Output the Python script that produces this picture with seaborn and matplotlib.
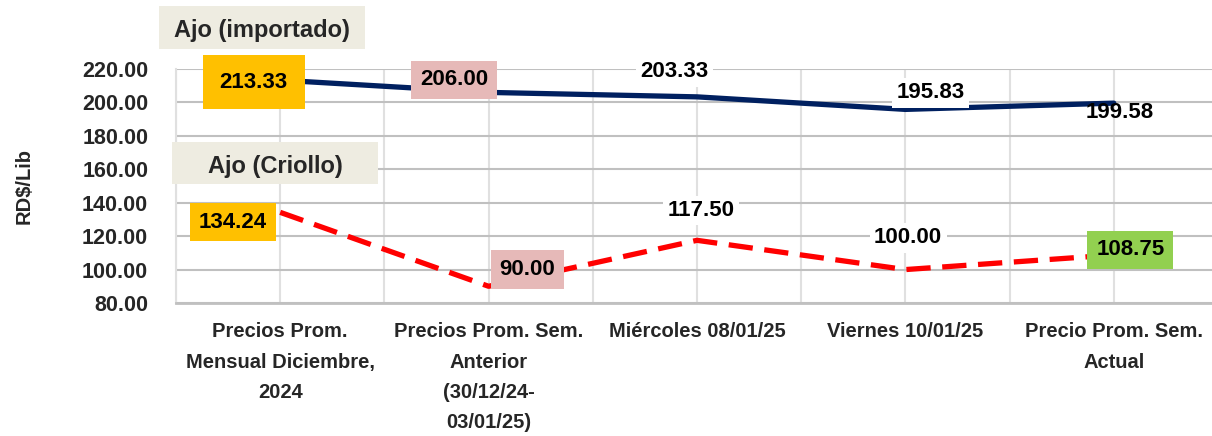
import pandas as pd
import matplotlib.pyplot as plt
from matplotlib.patches import Rectangle
import seaborn as sns

# Data
categories = ['Precios Prom.\nMensual Diciembre,\n2024',
              'Precios Prom. Sem.\nAnterior\n(30/12/24-\n03/01/25)',
              'Miércoles 08/01/25',
              'Viernes 10/01/25',
              'Precio Prom. Sem.\nActual']
importado = [213.33, 206.00, 203.33, 195.83, 199.58]
criollo = [134.24, 90.00, 117.50, 100.00, 108.75]
yticks = [80, 100, 120, 140, 160, 180, 200, 220]

sns.set_theme(style='white')
plt.rcParams['font.family'] = ['Liberation Sans', 'DejaVu Sans']
plt.rcParams['font.weight'] = 'bold'

df = pd.DataFrame({'pos': range(len(categories)), 'importado': importado, 'criollo': criollo})

fig = plt.figure(figsize=(12.12, 4.36), dpi=100)
ax = fig.add_axes([176 / 1212, 133 / 436, 1042 / 1212, 234 / 436])

sns.lineplot(data=df, x='pos', y='importado', ax=ax, color='#002060', linewidth=3.8, zorder=3)
sns.lineplot(data=df, x='pos', y='criollo', ax=ax, color='#FF0000', linewidth=3.8,
             linestyle=(0, (4.6, 2.2)), zorder=3)

ax.set_xlim(-0.5, 4.5)
ax.set_ylim(80, 220)
ax.set_yticks(yticks)
ax.set_yticklabels([f'{v:.2f}' for v in yticks], fontsize=15.5, fontweight='bold')
ax.set_xticks(range(len(categories)))
ax.set_xticks([i - 0.5 for i in range(len(categories) + 1)], minor=True)
ax.set_xticklabels(categories, fontsize=14.5, fontweight='bold', linespacing=1.75)
ax.tick_params(axis='x', which='both', length=0, pad=14)
ax.tick_params(axis='y', length=0, pad=20)
ax.grid(axis='y', color='#c0c0c0', linewidth=1.5)
ax.grid(axis='x', which='both', color='#e0e0e0', linewidth=1.5)
ax.set_axisbelow(True)
ax.set_xlabel('')
ax.set_ylabel(r'RD\$/Lib', fontsize=14.5, fontweight='bold')
ax.yaxis.set_label_coords(-0.137, 0.5)
for s in ['top', 'right']:
    ax.spines[s].set_visible(False)
ax.spines['left'].set_color('#e0e0e0')
ax.spines['left'].set_linewidth(1.5)
ax.spines['bottom'].set_color('#c0c0c0')
ax.spines['bottom'].set_linewidth(2)

# value labels: (offset in points, box colour, pad)
imp_style = [((-19, -1.5), '#FFC000', 0.75), ((-25, 9), '#E6B9B8', 0.4),
             ((-16, 18), 'white', 0.2), ((18, 12), 'white', 0.2), ((4, -6.5), None, 0)]
cri_style = [((-34, -7), '#FFC000', 0.4), ((28, 12), '#E6B9B8', 0.4),
             ((3, 21.5), 'white', 0.2), ((2, 23), 'white', 0.2), ((12, 3.6), '#92D050', 0.4)]

for vals, styles in [(importado, imp_style), (criollo, cri_style)]:
    for i, (v, (off, fc, pad)) in enumerate(zip(vals, styles)):
        bbox = None if fc is None else dict(boxstyle=f'square,pad={pad}', fc=fc, ec='none')
        ax.annotate(f'{v:.2f}', xy=(i, v), xytext=off, textcoords='offset points',
                    ha='center', va='center', fontsize=16, fontweight='bold',
                    color='black', bbox=bbox, zorder=5)

# series title boxes
for (x0, y0, w, h), label in [((159, 6, 206, 43), 'Ajo (importado)'),
                              ((172, 142, 206, 42), 'Ajo (Criollo)')]:
    fig.add_artist(Rectangle((x0 / 1212, 1 - (y0 + h) / 436), w / 1212, h / 436,
                             transform=fig.transFigure, fc='#EEECE1', ec='none'))
    fig.text((x0 + w / 2) / 1212, 1 - (y0 + h / 2 + 3) / 436, label,
             ha='center', va='center', fontsize=17, fontweight='bold')

fig.savefig('out.png', dpi=100)
